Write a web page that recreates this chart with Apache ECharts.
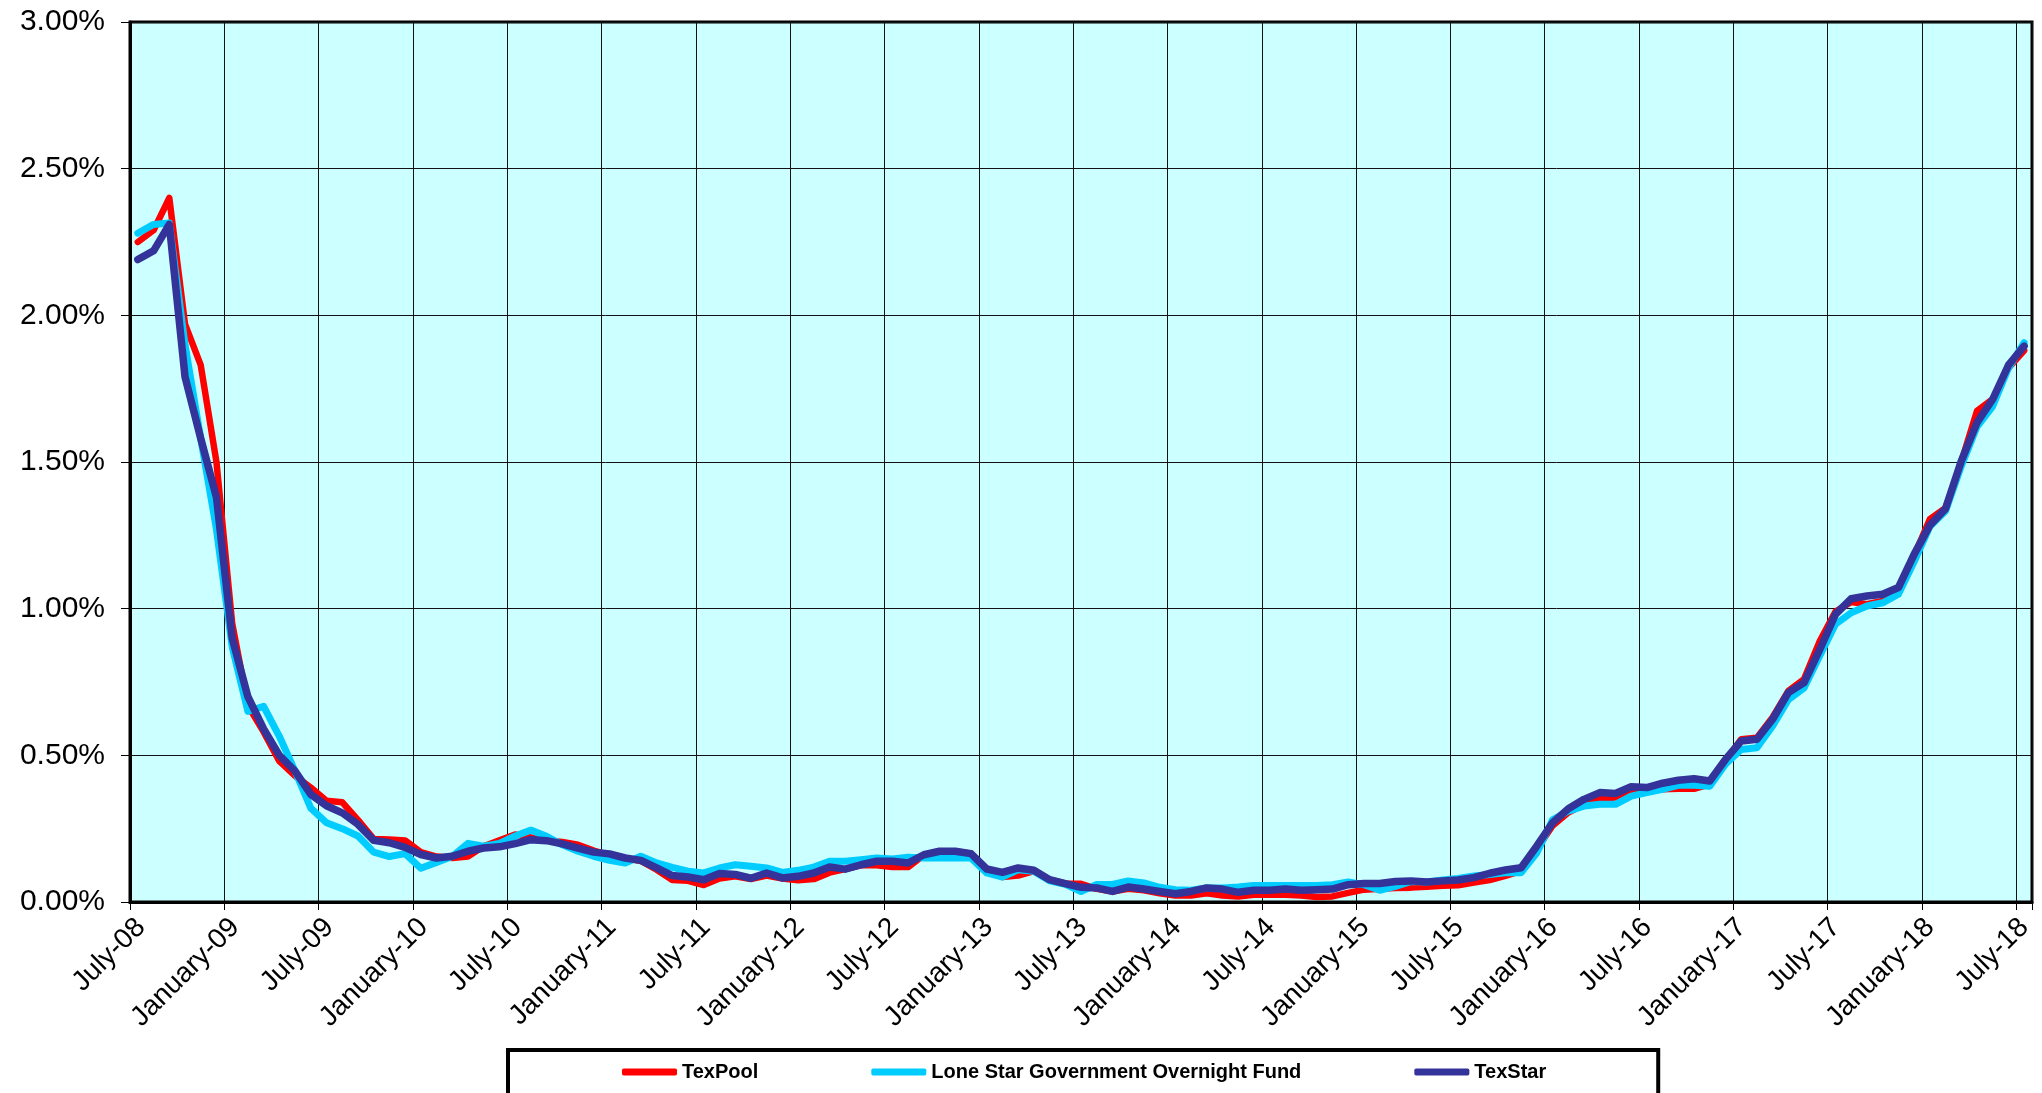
<!DOCTYPE html>
<html>
<head>
<meta charset="utf-8">
<title>TexPool vs Lone Star vs TexStar</title>
<script src="https://cdn.jsdelivr.net/npm/echarts@6/dist/echarts.min.js"></script>
<style>
  html, body { margin: 0; padding: 0; background: #fff; }
  #main { width: 2042px; height: 1093px; }
</style>
</head>
<body>
<div id="main"></div>
<script>
// monthly yields in %, July-08 .. July-18 (121 months)
const texPool = [
  2.25, 2.29, 2.40, 1.97, 1.83, 1.50, 0.95, 0.67, 0.58, 0.48,
  0.43, 0.39, 0.345, 0.34, 0.28, 0.215, 0.213, 0.21, 0.17, 0.155,
  0.15, 0.155, 0.19, 0.21, 0.23, 0.22, 0.21, 0.205, 0.195, 0.175,
  0.16, 0.15, 0.14, 0.11, 0.075, 0.072, 0.058, 0.08, 0.088, 0.078,
  0.09, 0.08, 0.074, 0.078, 0.10, 0.112, 0.125, 0.125, 0.119, 0.119,
  0.16, 0.173, 0.173, 0.165, 0.11, 0.085, 0.09, 0.105, 0.076, 0.063,
  0.062, 0.045, 0.036, 0.045, 0.04, 0.03, 0.022, 0.022, 0.03, 0.022,
  0.019, 0.025, 0.025, 0.025, 0.022, 0.017, 0.019, 0.031, 0.042, 0.045,
  0.048, 0.049, 0.052, 0.055, 0.057, 0.066, 0.075, 0.089, 0.106, 0.18,
  0.26, 0.305, 0.333, 0.352, 0.356, 0.373, 0.378, 0.384, 0.386, 0.386,
  0.401, 0.48, 0.555, 0.56, 0.63, 0.72, 0.76, 0.89, 0.99, 1.023,
  1.015, 1.026, 1.06, 1.18, 1.305, 1.344, 1.50, 1.674, 1.714, 1.82,
  1.88
];

const loneStar = [
  2.28, 2.31, 2.315, 1.90, 1.58, 1.27, 0.87, 0.65, 0.667, 0.565,
  0.446, 0.32, 0.27, 0.25, 0.225, 0.17, 0.155, 0.165, 0.115, 0.135,
  0.155, 0.20, 0.19, 0.20, 0.225, 0.245, 0.224, 0.195, 0.173, 0.156,
  0.142, 0.133, 0.156, 0.133, 0.118, 0.105, 0.099, 0.116, 0.127, 0.122,
  0.116, 0.101, 0.108, 0.119, 0.139, 0.139, 0.144, 0.15, 0.147, 0.153,
  0.15, 0.15, 0.15, 0.15, 0.099, 0.085, 0.11, 0.105, 0.072, 0.06,
  0.036, 0.06, 0.06, 0.072, 0.065, 0.05, 0.042, 0.04, 0.048, 0.048,
  0.051, 0.056, 0.056, 0.056, 0.056, 0.056, 0.059, 0.068, 0.059, 0.04,
  0.053, 0.07, 0.068, 0.075, 0.08, 0.089, 0.094, 0.10, 0.10, 0.168,
  0.28, 0.31, 0.327, 0.333, 0.333, 0.361, 0.373, 0.384, 0.398, 0.398,
  0.395, 0.47, 0.52, 0.526, 0.60, 0.69, 0.73, 0.84, 0.947, 0.986,
  1.009, 1.02, 1.049, 1.16, 1.28, 1.333, 1.486, 1.62, 1.69, 1.82,
  1.907
];

const texStar = [
  2.19, 2.22, 2.31, 1.79, 1.58, 1.38, 0.90, 0.70, 0.59, 0.50,
  0.446, 0.367, 0.328, 0.304, 0.265, 0.21, 0.202, 0.186, 0.162, 0.15,
  0.156, 0.173, 0.184, 0.188, 0.199, 0.2125, 0.209, 0.198, 0.184, 0.17,
  0.164, 0.15, 0.142, 0.116, 0.09, 0.085, 0.076, 0.097, 0.094, 0.081,
  0.099, 0.082, 0.0875, 0.099, 0.119, 0.112, 0.127, 0.139, 0.139, 0.133,
  0.161, 0.173, 0.173, 0.165, 0.1125, 0.101, 0.116, 0.108, 0.076, 0.063,
  0.05, 0.048, 0.036, 0.051, 0.044, 0.036, 0.028, 0.036, 0.048, 0.044,
  0.033, 0.04, 0.04, 0.044, 0.04, 0.042, 0.044, 0.059, 0.063, 0.063,
  0.07, 0.072, 0.068, 0.072, 0.075, 0.083, 0.098, 0.109, 0.117, 0.191,
  0.27, 0.318, 0.35, 0.373, 0.37, 0.393, 0.39, 0.405, 0.415, 0.42,
  0.4125, 0.486, 0.549, 0.555, 0.623, 0.714, 0.748, 0.861, 0.981, 1.034,
  1.043, 1.049, 1.072, 1.185, 1.284, 1.341, 1.503, 1.634, 1.714, 1.83,
  1.895
];

// one label every 6 months
const tickLabels = [
  'July-08', 'January-09', 'July-09', 'January-10', 'July-10', 'January-11',
  'July-11', 'January-12', 'July-12', 'January-13', 'July-13', 'January-14',
  'July-14', 'January-15', 'July-15', 'January-16', 'July-16', 'January-17',
  'July-17', 'January-18', 'July-18'
];

const seriesNames = ['TexPool', 'Lone Star Government Overnight Fund', 'TexStar'];
const seriesColors = ['#FF0000', '#00CCFF', '#333399'];
const lineWidths = [6.5, 7, 7.5];

const FONT = '"Liberation Sans", Arial, sans-serif';

// month i sits in the middle of its month band
const toPoints = arr => arr.map((v, i) => [i + 0.5, v]);

const chart = echarts.init(document.getElementById('main'));

chart.setOption({
  backgroundColor: '#fff',
  animation: false,
  grid: [
    {
      left: 130, right: 10, top: 22, bottom: 191,
      show: true,
      backgroundColor: '#CCFFFF',
      borderColor: '#000',
      borderWidth: 3
    },
    // same size, nudged right: only carries the rotated month labels
    { left: 141, right: -1, top: 22, bottom: 191, show: false }
  ],
  xAxis: [
    {
      type: 'value',
      min: 0,
      max: 121,
      interval: 6,
      axisLine: { show: true, onZero: false, lineStyle: { color: '#000', width: 3 } },
      axisTick: { show: true, length: 8, lineStyle: { color: '#000', width: 1 } },
      splitLine: { show: true, lineStyle: { color: '#111', width: 1 } },
      axisLabel: { show: false }
    },
    {
      type: 'value',
      gridIndex: 1,
      min: 0,
      max: 121,
      interval: 6,
      axisLine: { show: false },
      axisTick: { show: false },
      splitLine: { show: false },
      axisLabel: {
        rotate: 45,
        margin: 21,
        color: '#000',
        fontSize: 28,
        fontFamily: FONT,
        formatter: v => (v % 6 === 0 && v / 6 < tickLabels.length) ? tickLabels[v / 6] : ''
      }
    }
  ],
  yAxis: [
    {
      type: 'value',
      min: 0,
      max: 3,
      interval: 0.5,
      axisLine: { show: true, lineStyle: { color: '#000', width: 3 } },
      axisTick: { show: true, length: 9, lineStyle: { color: '#000', width: 1 } },
      splitLine: { show: true, lineStyle: { color: '#111', width: 1 } },
      axisLabel: {
        margin: 25,
        color: '#000',
        fontSize: 30,
        fontFamily: FONT,
        formatter: v => v.toFixed(2) + '%'
      }
    },
    { type: 'value', gridIndex: 1, min: 0, max: 3, show: false }
  ],
  legend: {
    left: 508,
    top: 1050,
    padding: [12, 112, 40, 114],
    borderColor: '#000',
    borderWidth: 4,
    itemWidth: 55,
    itemHeight: 7,
    itemGap: 113,
    icon: 'roundRect',
    textStyle: { color: '#000', fontSize: 20, fontWeight: 'bold', fontFamily: FONT },
    data: seriesNames
  },
  series: [texPool, loneStar, texStar].map((arr, k) => ({
    name: seriesNames[k],
    type: 'line',
    xAxisIndex: 0,
    yAxisIndex: 0,
    data: toPoints(arr),
    showSymbol: false,
    symbol: 'none',
    color: seriesColors[k],
    lineStyle: { color: seriesColors[k], width: lineWidths[k], cap: 'round', join: 'round' },
    z: 2 + k
  }))
});

window.addEventListener('resize', () => chart.resize());
</script>
</body>
</html>
